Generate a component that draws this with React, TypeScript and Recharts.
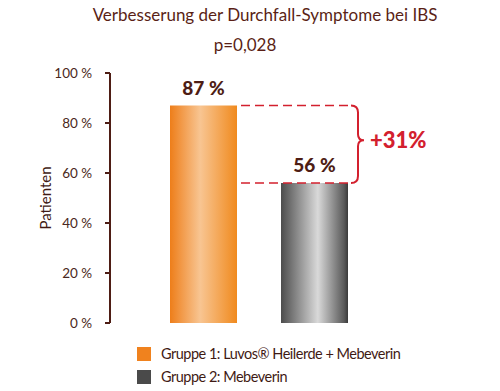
import React from 'react';
import { BarChart, Bar, XAxis, YAxis, Cell, LabelList } from 'recharts';

const categories = ['Gruppe 1: Luvos® Heilerde + Mebeverin', 'Gruppe 2: Mebeverin'];
const values = [87, 56];
const yTicks = [0, 20, 40, 60, 80, 100];
const legendColors = ['#f0821e', '#4a4a4a'];
const barFills = ['url(#gradOrange)', 'url(#gradGray)'];

const data = categories.map((name, i) => ({ name, value: values[i] }));

const FONT = 'Lato, "Open Sans", sans-serif';
const BROWN = '#4e1d14';
const RED = '#d3202e';

// value label on top of each bar; the first bar also carries the bracket
// that shows the difference between both groups
const BarLabel = (props: any) => {
  const { x, y, width, height, value, index } = props;
  const cx = x + width / 2;
  const text = (
    <text x={cx} y={y - 11} textAnchor="middle" fill={BROWN}
      style={{ fontFamily: FONT, fontWeight: 900, fontSize: 19 }}>
      {`${value}\u202F%`}
    </text>
  );
  if (index !== 0) return text;

  const bottom = y + height;
  const yHigh = y;
  const yLow = bottom - (height * values[1]) / values[0];
  const x0 = x + width + 4;
  const bx = x + width + 121;
  const tip = (yHigh + yLow) / 2 - 4;
  const diff = values[0] - values[1];
  return (
    <g>
      {text}
      <line x1={x0} y1={yHigh} x2={bx - 7} y2={yHigh} stroke={RED} strokeWidth={1.5} strokeDasharray="9 5" />
      <line x1={x0} y1={yLow} x2={bx - 7} y2={yLow} stroke={RED} strokeWidth={1.5} strokeDasharray="9 5" />
      <path
        d={`M ${bx - 7} ${yHigh} Q ${bx} ${yHigh} ${bx} ${yHigh + 7} L ${bx} ${tip - 6} Q ${bx} ${tip} ${bx + 6} ${tip} Q ${bx} ${tip} ${bx} ${tip + 6} L ${bx} ${yLow - 7} Q ${bx} ${yLow} ${bx - 7} ${yLow}`}
        fill="none" stroke={RED} strokeWidth={2}
      />
      <text x={bx + 12} y={tip + 8} fill={RED}
        style={{ fontFamily: FONT, fontWeight: 900, fontSize: 22 }}>
        {`+${diff}%`}
      </text>
    </g>
  );
};

const App: React.FC = () => {
  return (
    <div style={{ position: 'absolute', left: 0, top: 0, width: 500, height: 391, background: '#ffffff', fontFamily: FONT }}>
      <div style={{ position: 'absolute', left: 0, width: 530, top: 4, textAlign: 'center', fontSize: 17, color: '#5a1f16' }}>
        Verbesserung der Durchfall-Symptome bei IBS
      </div>
      <div style={{ position: 'absolute', left: 0, width: 490, top: 34, textAlign: 'center', fontSize: 17, color: '#5a1f16' }}>
        p=0,028
      </div>

      <BarChart
        width={500}
        height={391}
        data={data}
        margin={{ top: 73, right: 70, left: 40, bottom: 68 }}
        style={{ position: 'absolute', left: 0, top: 0 }}
      >
        <defs>
          <linearGradient id="gradOrange" x1="0" y1="0" x2="1" y2="0">
            <stop offset="0%" stopColor="#ee7e1a" />
            <stop offset="45%" stopColor="#f8c592" />
            <stop offset="100%" stopColor="#f08a1e" />
          </linearGradient>
          <linearGradient id="gradGray" x1="0" y1="0" x2="1" y2="0">
            <stop offset="0%" stopColor="#4c4c4c" />
            <stop offset="55%" stopColor="#d9d9d9" />
            <stop offset="94%" stopColor="#5a5a5a" />
            <stop offset="100%" stopColor="#3a3a3a" />
          </linearGradient>
        </defs>
        <XAxis
          dataKey="name"
          height={0}
          tick={false}
          tickLine={false}
          padding={{ left: 38, right: 60 }}
          axisLine={{ stroke: BROWN, strokeWidth: 2 }}
        />
        <YAxis
          width={70}
          domain={[0, 100]}
          ticks={yTicks}
          interval={0}
          tickFormatter={(v: number) => `${v}\u202F%`}
          tick={{ fill: '#4a2820', fontSize: 13.5, fontFamily: FONT }}
          tickSize={5}
          tickMargin={13}
          tickLine={{ stroke: BROWN, strokeWidth: 2 }}
          axisLine={{ stroke: BROWN, strokeWidth: 2 }}
          label={{
            value: 'Patienten',
            angle: -90,
            position: 'insideLeft',
            offset: 6,
            style: { fill: '#3f1a14', fontSize: 15, fontFamily: FONT, textAnchor: 'middle' },
          }}
        />
        <Bar dataKey="value" barSize={67} isAnimationActive={false}>
          {data.map((d, i) => (
            <Cell key={d.name} fill={barFills[i]} />
          ))}
          <LabelList dataKey="value" content={<BarLabel />} />
        </Bar>
      </BarChart>

      <div style={{ position: 'absolute', left: 137, top: 342, fontSize: 14.5, letterSpacing: -0.5, color: '#3f1a14', lineHeight: '23px' }}>
        {categories.map((c, i) => (
          <div key={c} style={{ display: 'flex', alignItems: 'center' }}>
            <span style={{ display: 'inline-block', width: 14, height: 14, background: legendColors[i], marginRight: 10 }} />
            <span>{c}</span>
          </div>
        ))}
      </div>
    </div>
  );
};

export default App;
